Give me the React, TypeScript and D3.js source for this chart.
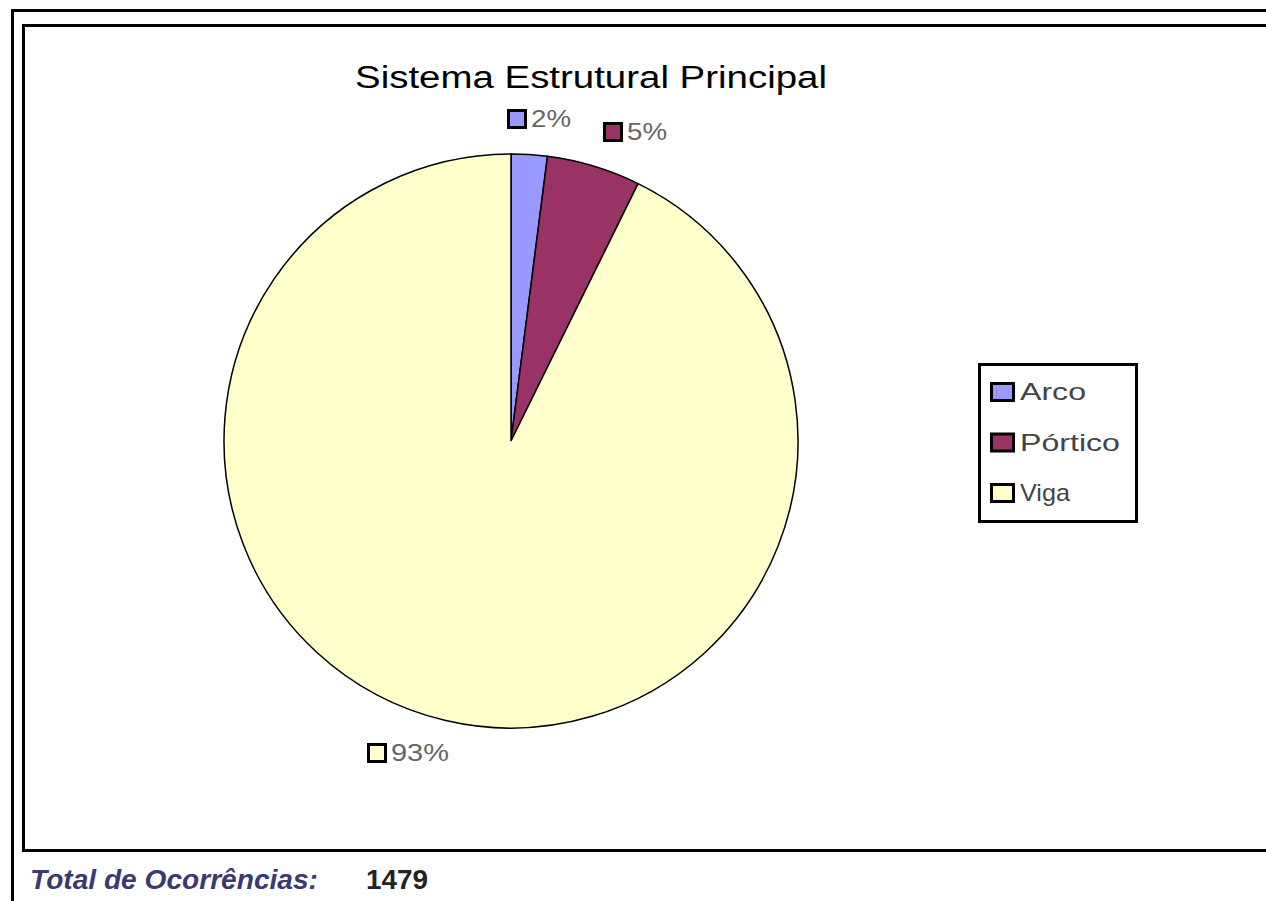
import React from "react";
import * as d3 from "d3";

const categories = ["Arco", "Pórtico", "Viga"];
const counts = [30, 78, 1371];
const colors = ["#9999FF", "#993366", "#FFFFCC"];
const title = "Sistema Estrutural Principal";
const totalLabel = "Total de Ocorrências:";
const totalValue = "1479";

export default function App() {
  const W = 1266, H = 901;
  const cx = 511, cy = 441, r = 287;
  const total = d3.sum(counts);
  const pie = d3.pie<number>().sort(null).value((d) => d)(counts);
  const arc = d3.arc<d3.PieArcDatum<number>>().innerRadius(0).outerRadius(r);
  const font = "'Liberation Sans', Arial, sans-serif";
  // data label anchor offsets relative to slice (square top-left)
  const labelPos = [
    { x: cx - 4, y: cy - r - 45 },
    { x: cx + 92, y: cy - r - 32 },
    { x: cx - 144, y: cy + r + 15 },
  ];
  const labelWidths = [40, 40, 58];
  const legendWidths = [66, 100, 50];
  return (
    <svg width={W} height={H} style={{ position: "absolute", left: 0, top: 0, background: "#fff" }}>
      <rect x={0} y={0} width={W} height={H} fill="#fff" />
      <rect x={12.5} y={10.5} width={W + 20} height={H + 20} fill="none" stroke="#000" strokeWidth={3} />
      <rect x={23.5} y={25.5} width={W + 20} height={825} fill="none" stroke="#000" strokeWidth={3} />
      <text x={355} y={88} fontFamily={font} fontSize={31} fill="#000" textLength={472} lengthAdjust="spacingAndGlyphs">{title}</text>
      <g transform={`translate(${cx},${cy})`}>
        {pie.map((p, i) => (
          <path key={i} d={arc(p) || ""} fill={colors[i]} stroke="#000" strokeWidth={1.5} />
        ))}
      </g>
      {pie.map((p, i) => {
        const pct = Math.round((p.data / total) * 100) + "%";
        const { x, y } = labelPos[i];
        return (
          <g key={i}>
            <rect x={x + 1.5} y={y + 1.5} width={17} height={17} fill={colors[i]} stroke="#000" strokeWidth={3} />
            <text x={x + 24} y={y + 18} fontFamily={font} fontSize={24} fill="#666" textLength={labelWidths[i]} lengthAdjust="spacingAndGlyphs">{pct}</text>
          </g>
        );
      })}
      <rect x={979.5} y={364.5} width={157} height={157} fill="#fff" stroke="#000" strokeWidth={3} />
      {categories.map((c, i) => (
        <g key={c}>
          <rect x={991.5} y={383.5 + i * 50.5} width={22} height={17} fill={colors[i]} stroke="#000" strokeWidth={3} />
          <text x={1020} y={400 + i * 50.5} fontFamily={font} fontSize={24} fill="#444" textLength={legendWidths[i]} lengthAdjust="spacingAndGlyphs">{c}</text>
        </g>
      ))}
      <text x={30} y={889} fontFamily={font} fontSize={27} fontStyle="italic" fontWeight="bold" fill="#3a3a70" textLength={288} lengthAdjust="spacingAndGlyphs">{totalLabel}</text>
      <text x={366} y={889} fontFamily={font} fontSize={27} fontWeight="bold" fill="#222" textLength={62} lengthAdjust="spacingAndGlyphs">{totalValue}</text>
    </svg>
  );
}
